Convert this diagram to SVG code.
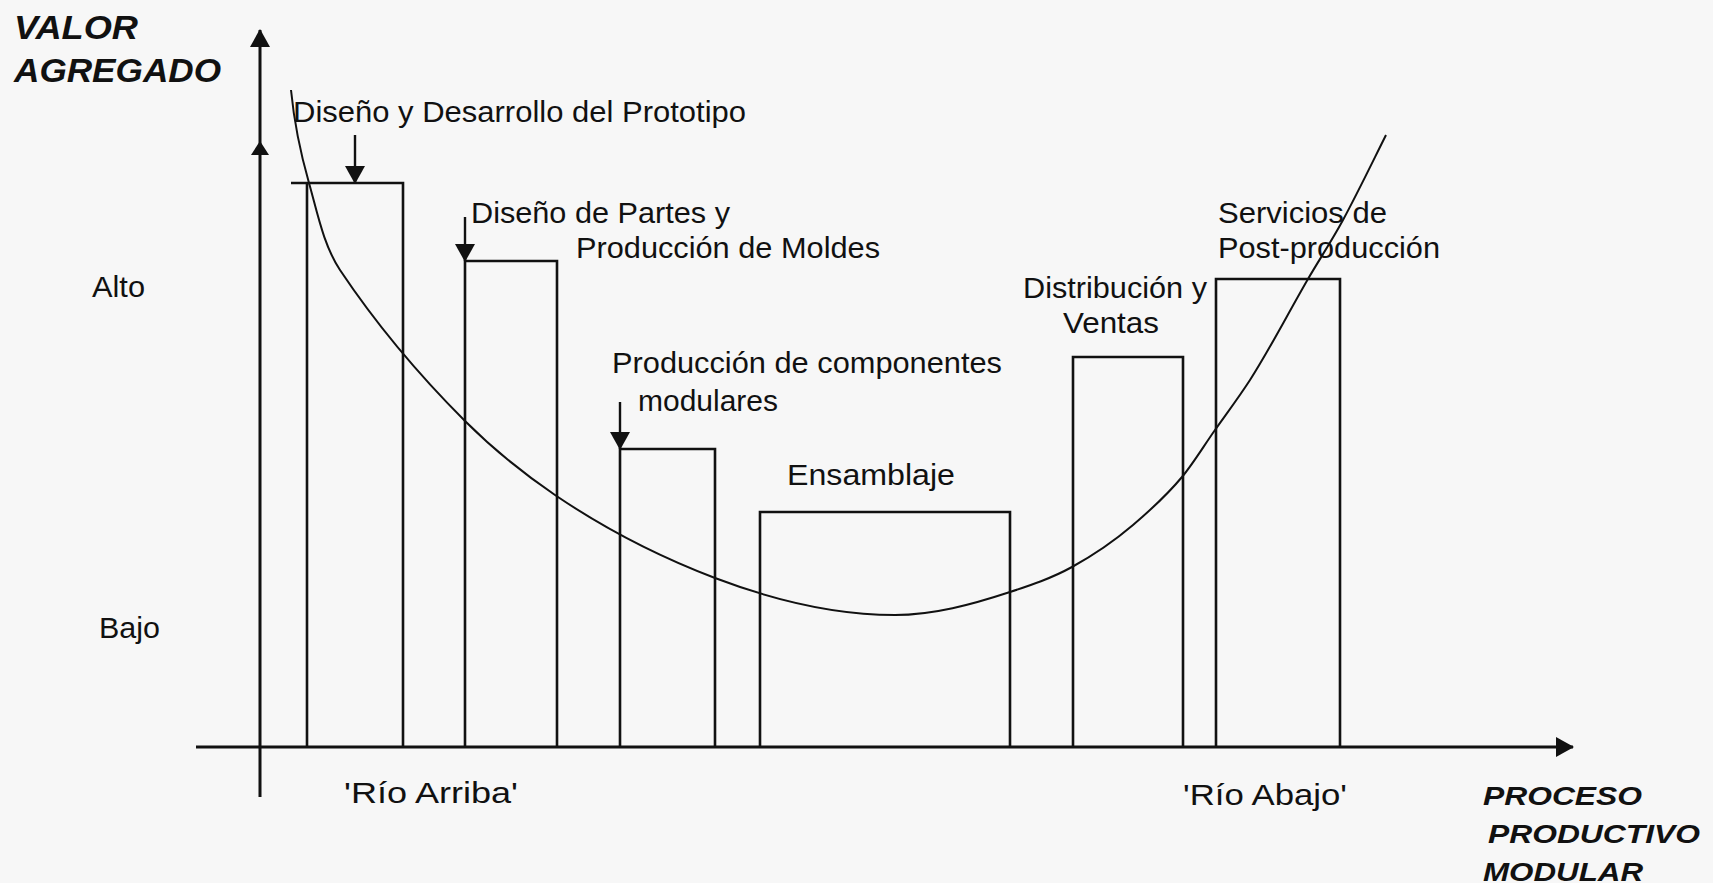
<svg xmlns="http://www.w3.org/2000/svg" width="1713" height="883" viewBox="0 0 1713 883">
<style>
.bg{fill:#f7f7f7}
.box{fill:none;stroke:#111;stroke-width:2.6}
.ax{fill:none;stroke:#111;stroke-width:3}
.ln{fill:none;stroke:#111;stroke-width:2.4}
.cv{fill:none;stroke:#111;stroke-width:2}
.t{font-family:"Liberation Sans",Arial,sans-serif;font-size:29px;fill:#111}
.b{font-family:"Liberation Sans",Arial,sans-serif;font-weight:bold;font-style:italic;fill:#111}
</style>
<defs>
<marker id="ah" viewBox="0 0 18 20" refX="17" refY="10" markerWidth="18" markerHeight="20" markerUnits="userSpaceOnUse" orient="auto">
<path d="M0,0 L18,10 L0,20 Z" fill="#111"/>
</marker>
</defs>
<rect class="bg" x="0" y="0" width="1713" height="883"/>

<g id="axis-labels">
<text class="b" font-size="33" x="14" y="39" textLength="124" lengthAdjust="spacingAndGlyphs">VALOR</text>
<text class="b" font-size="33" x="14" y="82" textLength="207" lengthAdjust="spacingAndGlyphs">AGREGADO</text>
<text class="t" x="92" y="297" textLength="53" lengthAdjust="spacingAndGlyphs">Alto</text>
<text class="t" x="99" y="638" textLength="61" lengthAdjust="spacingAndGlyphs">Bajo</text>
<text class="t" x="344" y="803" textLength="174" lengthAdjust="spacingAndGlyphs">'Río Arriba'</text>
<text class="t" x="1183" y="805" textLength="164" lengthAdjust="spacingAndGlyphs">'Río Abajo'</text>
<text class="b" font-size="25" x="1483" y="805" textLength="159" lengthAdjust="spacingAndGlyphs">PROCESO</text>
<text class="b" font-size="25" x="1488" y="843" textLength="212" lengthAdjust="spacingAndGlyphs">PRODUCTIVO</text>
<text class="b" font-size="25" x="1483" y="881" textLength="160" lengthAdjust="spacingAndGlyphs">MODULAR</text>
</g>

<g id="node-prototipo">
<path class="box" d="M307,747 V183 H403 V747 M291,183 H307"/>
<text class="t" x="293" y="122" textLength="453" lengthAdjust="spacingAndGlyphs">Diseño y Desarrollo del Prototipo</text>
</g>

<g id="node-moldes">
<path class="box" d="M465,747 V261 H557 V747"/>
<text class="t" x="471" y="223" textLength="259" lengthAdjust="spacingAndGlyphs">Diseño de Partes y</text>
<text class="t" x="576" y="258" textLength="304" lengthAdjust="spacingAndGlyphs">Producción de Moldes</text>
</g>

<g id="node-componentes">
<path class="box" d="M620,747 V449 H715 V747"/>
<text class="t" x="612" y="373" textLength="390" lengthAdjust="spacingAndGlyphs">Producción de componentes</text>
<text class="t" x="638" y="411" textLength="140" lengthAdjust="spacingAndGlyphs">modulares</text>
</g>

<g id="node-ensamblaje">
<path class="box" d="M760,747 V512 H1010 V747"/>
<text class="t" x="787" y="485" textLength="168" lengthAdjust="spacingAndGlyphs">Ensamblaje</text>
</g>

<g id="node-distribucion">
<path class="box" d="M1073,747 V357 H1183 V747"/>
<text class="t" x="1023" y="298" textLength="184" lengthAdjust="spacingAndGlyphs">Distribución y</text>
<text class="t" x="1063" y="333" textLength="96" lengthAdjust="spacingAndGlyphs">Ventas</text>
</g>

<g id="node-servicios">
<path class="box" d="M1216,747 V279 H1340 V747"/>
<text class="t" x="1218" y="223" textLength="169" lengthAdjust="spacingAndGlyphs">Servicios de</text>
<text class="t" x="1218" y="258" textLength="222" lengthAdjust="spacingAndGlyphs">Post-producción</text>
</g>

<g id="connectors">
<line class="ax" x1="260" y1="797" x2="260" y2="30" marker-end="url(#ah)"/>
<path d="M251,155 L260,141 L269,155 Z" fill="#111"/>
<line class="ax" x1="196" y1="747" x2="1573" y2="747" marker-end="url(#ah)"/>
<line class="ln" x1="355" y1="135" x2="355" y2="183" marker-end="url(#ah)"/>
<line class="ln" x1="465" y1="217" x2="465" y2="261" marker-end="url(#ah)"/>
<line class="ln" x1="620" y1="402" x2="620" y2="449" marker-end="url(#ah)"/>
<path class="cv" d="M291,90 C294,121 300.5,153.2 309,183 C317.2,211.9 323.4,245 340,270 C376.1,324.1 419,375 465,421 C491.9,447.9 523.6,473.6 555,495 C608.3,531.2 661.7,557.7 715,578 C775,600.8 835,615 895,615 C933.3,615 971.7,604.6 1010,592 C1030.7,585.2 1051.3,578.4 1072,567 C1092.3,555.8 1112.7,542.3 1133,525 C1149.3,511.1 1165.7,496.6 1182,477 C1193,463.8 1204,445.6 1215,430 C1226.7,413.4 1238.3,398.1 1250,380 C1269.3,350.1 1288.7,312.2 1308,279 C1319.7,258.9 1331.3,241.6 1343,220 C1357.3,193.5 1371.7,163.6 1386,135"/>
</g>
</svg>
